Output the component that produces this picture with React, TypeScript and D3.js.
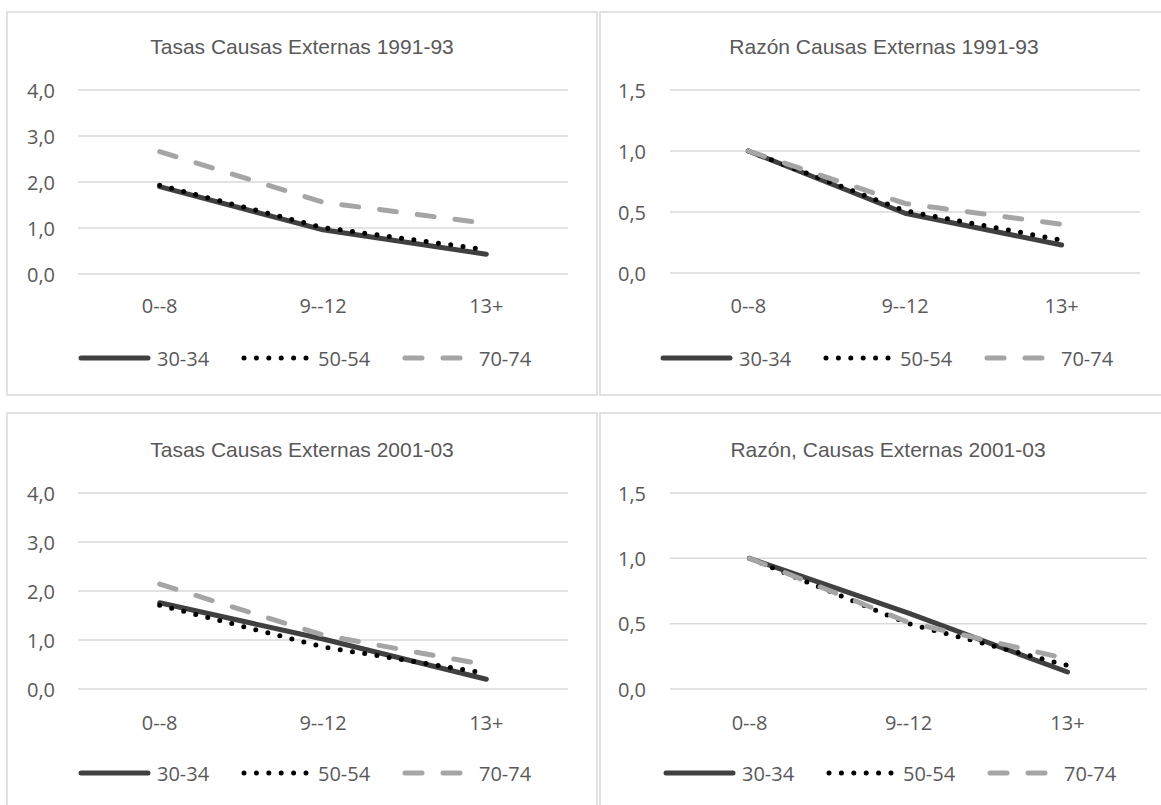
import React from "react";
import * as d3 from "d3";

// ---- data ----
const categories = ["0--8", "9--12", "13+"];
const seriesNames = ["30-34", "50-54", "70-74"];

const tasas9193_3034 = [1.9, 0.96, 0.43];
const tasas9193_5054 = [1.93, 1.01, 0.53];
const tasas9193_7074 = [2.66, 1.56, 1.1];

const razon9193_3034 = [1.0, 0.49, 0.23];
const razon9193_5054 = [1.0, 0.51, 0.27];
const razon9193_7074 = [1.0, 0.57, 0.4];

const tasas0103_3034 = [1.76, 1.02, 0.2];
const tasas0103_5054 = [1.71, 0.86, 0.32];
const tasas0103_7074 = [2.14, 1.1, 0.49];

const razon0103_3034 = [1.0, 0.58, 0.13];
const razon0103_5054 = [1.0, 0.5, 0.18];
const razon0103_7074 = [1.0, 0.51, 0.23];

const tasasTicks = [0, 1, 2, 3, 4];
const razonTicks = [0, 0.5, 1, 1.5];

const titles = [
  "Tasas Causas Externas 1991-93",
  "Razón Causas Externas 1991-93",
  "Tasas Causas Externas 2001-03",
  "Razón, Causas Externas 2001-03",
];

// ---- styles ----
const TEXT = "#595959";
const GRID = "#d9d9d9";
const BORDER = "#d9d9d9";
const LABEL_FONT = "'Open Sans', 'Noto Sans', sans-serif";
const TITLE_FONT = "'Liberation Sans', Arial, sans-serif";

const seriesStyles = [
  { stroke: "#404040", width: 5, dash: undefined as string | undefined, cap: "round" },
  { stroke: "#000000", width: 5, dash: "0 12.4", cap: "round" },
  { stroke: "#a5a5a5", width: 5, dash: "17 21", cap: "round" },
];

type PanelLayout = {
  bx0: number; bx1: number; by0: number; by1: number;
  px0: number; px1: number; yTopPx: number; yZeroPx: number;
  titleX: number; titleY: number; xLabelY: number; legendY: number;
  tickRight: number; legendX: number;
};

const layouts: PanelLayout[] = [
  { bx0: 7, bx1: 597, by0: 12, by1: 395, px0: 78, px1: 568, yTopPx: 90, yZeroPx: 274,
    titleX: 302, titleY: 46, xLabelY: 305, legendY: 358, tickRight: 55, legendX: 81 },
  { bx0: 600, bx1: 1169, by0: 12, by1: 395, px0: 670, px1: 1140, yTopPx: 90, yZeroPx: 273,
    titleX: 884, titleY: 46, xLabelY: 305, legendY: 358, tickRight: 646, legendX: 663 },
  { bx0: 7, bx1: 597, by0: 413, by1: 820, px0: 78, px1: 568, yTopPx: 493, yZeroPx: 689,
    titleX: 302, titleY: 449, xLabelY: 722, legendY: 773, tickRight: 55, legendX: 81 },
  { bx0: 600, bx1: 1169, by0: 413, by1: 820, px0: 670, px1: 1147, yTopPx: 493, yZeroPx: 689,
    titleX: 888, titleY: 449, xLabelY: 722, legendY: 773, tickRight: 646, legendX: 666 },
];

const panelData = [
  { series: [tasas9193_3034, tasas9193_5054, tasas9193_7074], ticks: tasasTicks },
  { series: [razon9193_3034, razon9193_5054, razon9193_7074], ticks: razonTicks },
  { series: [tasas0103_3034, tasas0103_5054, tasas0103_7074], ticks: tasasTicks },
  { series: [razon0103_3034, razon0103_5054, razon0103_7074], ticks: razonTicks },
];

const fmt = (v: number) => v.toFixed(1).replace(".", ",");

function Panel({ idx }: { idx: number }) {
  const L = layouts[idx];
  const D = panelData[idx];
  const x = d3.scaleBand<string>().domain(categories).range([L.px0, L.px1]).padding(0);
  const cx = (c: string) => (x(c) as number) + x.bandwidth() / 2;
  const yMax = d3.max(D.ticks) as number;
  const y = d3.scaleLinear().domain([0, yMax]).range([L.yZeroPx, L.yTopPx]);
  const line = d3
    .line<number>()
    .x((_, i) => cx(categories[i]))
    .y((v) => y(v));

  const sampleLen = 69;
  const entrySpacing = 161;

  return (
    <g>
      <rect
        x={L.bx0}
        y={L.by0}
        width={L.bx1 - L.bx0}
        height={L.by1 - L.by0}
        fill="#fff"
        stroke={BORDER}
        strokeWidth={1.5}
      />
      <text
        x={L.titleX}
        y={L.titleY}
        textAnchor="middle"
        dominantBaseline="central"
        fontFamily={TITLE_FONT}
        fontSize={21}
        fill={TEXT}
      >
        {titles[idx]}
      </text>
      {D.ticks.map((t) => (
        <g key={t}>
          <line x1={L.px0} x2={L.px1} y1={y(t)} y2={y(t)} stroke={GRID} strokeWidth={1.5} />
          <text
            x={L.tickRight}
            y={y(t)}
            textAnchor="end"
            dominantBaseline="central"
            fontFamily={LABEL_FONT}
            fontSize={20}
            fill={TEXT}
          >
            {fmt(t)}
          </text>
        </g>
      ))}
      {categories.map((c) => (
        <text
          key={c}
          x={cx(c)}
          y={L.xLabelY}
          textAnchor="middle"
          dominantBaseline="central"
          fontFamily={LABEL_FONT}
          fontSize={20}
          fill={TEXT}
        >
          {c}
        </text>
      ))}
      {D.series.map((s, i) => {
        const st = seriesStyles[i];
        return (
          <path
            key={i}
            d={line(s) as string}
            fill="none"
            stroke={st.stroke}
            strokeWidth={st.width}
            strokeDasharray={st.dash}
            strokeLinecap={st.cap as any}
            strokeLinejoin="round"
          />
        );
      })}
      {seriesNames.map((name, i) => {
        const st = seriesStyles[i];
        const lx = L.legendX + i * entrySpacing;
        return (
          <g key={name}>
            <line
              x1={lx + (i === 0 ? 0 : 2)}
              x2={lx + sampleLen - 2}
              y1={L.legendY}
              y2={L.legendY}
              stroke={st.stroke}
              strokeWidth={st.width}
              strokeDasharray={st.dash}
              strokeLinecap={st.cap as any}
            />
            <text
              x={lx + 76}
              y={L.legendY}
              dominantBaseline="central"
              fontFamily={LABEL_FONT}
              fontSize={20}
              fill={TEXT}
            >
              {name}
            </text>
          </g>
        );
      })}
    </g>
  );
}

export default function App() {
  return (
    <svg
      width={1161}
      height={805}
      style={{ position: "absolute", left: 0, top: 0, background: "#fff" }}
    >
      <rect x={0} y={0} width={1161} height={805} fill="#fff" />
      {[0, 1, 2, 3].map((i) => (
        <Panel key={i} idx={i} />
      ))}
    </svg>
  );
}
